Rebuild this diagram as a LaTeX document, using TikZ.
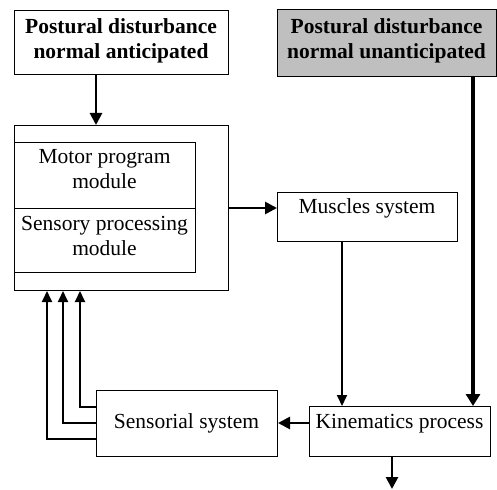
\documentclass[tikz,border=0pt]{standalone}
\usepackage{fontspec}
\setmainfont{Liberation Serif}
\usetikzlibrary{arrows.meta}
\begin{document}
\begin{tikzpicture}[x=1pt,y=-1pt,
  box/.style={draw,line width=1pt,minimum width=#1,inner sep=0pt,anchor=north west},
  lbl/.style={font=\fontsize{21.5}{25}\selectfont,align=center,inner sep=0pt},
  blbl/.style={font=\fontsize{21.5}{25}\selectfont\bfseries,align=center,inner sep=0pt},
  arr/.style={line width=2.7pt,-{Triangle[length=12pt,width=12pt]}},
  thin/.style={line width=1.9pt,-{Triangle[length=11pt,width=10pt]}},
  heavy/.style={line width=4.5pt,-{Triangle[length=12pt,width=14pt]}}]
\useasboundingbox (0,0) rectangle (497,489);
% boxes
\node[box=214pt,minimum height=64pt] (tl) at (14,10) {};
\node[box=219pt,minimum height=67pt,fill=black!25] (gr) at (277,9) {};
\node[box=214pt,minimum height=165pt] (big) at (14,125) {};
\node[box=181pt,minimum height=66pt] (mp) at (14,142) {};
\node[box=181pt,minimum height=64pt] (sp) at (14,208) {};
\node[box=180pt,minimum height=49pt] (mus) at (277,192) {};
\node[box=181pt,minimum height=50pt] (kin) at (309,406) {};
\node[box=181pt,minimum height=66pt] (ss) at (96,390) {};
% labels
\node[blbl] (tlt) at (121,41) {Postural disturbance\\normal anticipated};
\node[blbl] (grt) at (386.5,41) {Postural disturbance\\normal unanticipated};
\node[lbl,anchor=base] (mpt) at (104.5,188) {Motor program\\module};
\node[lbl,anchor=base] (spt) at (104.5,255) {Sensory processing\\module};
\node[lbl,anchor=base] (must) at (367,213) {Muscles system};
\node[lbl,anchor=base] (kint) at (399.5,428) {Kinematics process};
\node[lbl,anchor=base] (sst) at (186.5,428) {Sensorial system};
% helper coordinates
\coordinate (c1) at (96,0);
\coordinate (c2) at (473,0);
\coordinate (c3) at (342,0);
\coordinate (c4) at (0,423);
\coordinate (c5) at (392,0);
\coordinate (c6) at (392,489);
\coordinate (c7) at (0,208);
\coordinate (f1) at (47,439);
\coordinate (f2) at (63,423);
\coordinate (f3) at (80,407);
% connectors
\draw[arr] (tl.south -| c1) -- (big.north -| c1);
\draw[arr] (big.east |- c7) -- (mus.west |- c7);
\draw[heavy] (gr.south -| c2) -- (kin.north -| c2);
\draw[thin] (mus.south -| c3) -- (kin.north -| c3);
\draw[arr] (kin.west |- c4) -- (ss.east |- c4);
\draw[arr] (kin.south -| c5) -- (c6);
\draw[thin] (ss.west |- f1) -| (big.south -| f1);
\draw[thin] (ss.west |- f2) -| (big.south -| f2);
\draw[thin] (ss.west |- f3) -| (big.south -| f3);
\end{tikzpicture}
\end{document}
